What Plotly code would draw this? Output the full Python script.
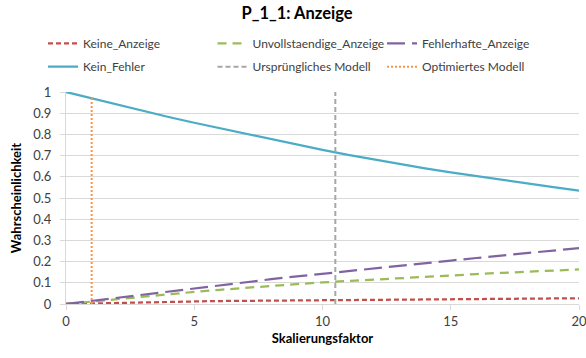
import plotly.graph_objects as go

# Skalierungsfaktor (x) and the probabilities of each outcome
skalierung = list(range(0, 21))
keine_anzeige = [0.0, 0.003, 0.006, 0.008, 0.010, 0.012, 0.014, 0.015, 0.017, 0.018, 0.019,
                 0.020, 0.021, 0.022, 0.023, 0.024, 0.024, 0.025, 0.026, 0.026, 0.027]
unvollstaendige_anzeige = [0.0, 0.012, 0.024, 0.035, 0.046, 0.057, 0.067, 0.077, 0.086, 0.094, 0.102,
                           0.109, 0.116, 0.123, 0.129, 0.135, 0.141, 0.147, 0.152, 0.158, 0.163]
fehlerhafte_anzeige = [0.0, 0.015, 0.030, 0.045, 0.060, 0.075, 0.090, 0.103, 0.117, 0.130, 0.143,
                       0.156, 0.169, 0.181, 0.193, 0.205, 0.217, 0.229, 0.240, 0.252, 0.264]
kein_fehler = [1.0, 0.970, 0.940, 0.910, 0.882, 0.855, 0.829, 0.803, 0.778, 0.754, 0.727,
               0.703, 0.681, 0.660, 0.640, 0.621, 0.603, 0.585, 0.568, 0.551, 0.535]

# Model markers: x position and vertical extent
urspruengliches_x = [10.5, 10.5]
urspruengliches_y = [0.0, 1.0]
optimiertes_x = [1.0, 1.0]
optimiertes_y = [0.0, 0.98]

FONT = "Lato"

fig = go.Figure()
# first legend row
fig.add_trace(go.Scatter(x=skalierung, y=keine_anzeige, name="Keine_Anzeige", mode="lines",
                         legend="legend",
                         line=dict(color="#C0504D", width=2.25, dash="5px,3px")))
fig.add_trace(go.Scatter(x=skalierung, y=unvollstaendige_anzeige, name="Unvollstaendige_Anzeige",
                         mode="lines", legend="legend",
                         line=dict(color="#9BBB59", width=2.25, dash="9px,6px")))
fig.add_trace(go.Scatter(x=skalierung, y=fehlerhafte_anzeige, name="Fehlerhafte_Anzeige",
                         mode="lines", legend="legend",
                         line=dict(color="#8064A2", width=2.25, dash="18px,7px")))
# second legend row
fig.add_trace(go.Scatter(x=skalierung, y=kein_fehler, name="Kein_Fehler", mode="lines",
                         legend="legend2",
                         line=dict(color="#4BACC6", width=2.25)))
fig.add_trace(go.Scatter(x=urspruengliches_x, y=urspruengliches_y, name="Ursprüngliches Modell",
                         mode="lines", legend="legend2",
                         line=dict(color="#A6A6A6", width=2, dash="5px,3px")))
fig.add_trace(go.Scatter(x=optimiertes_x, y=optimiertes_y, name="Optimiertes Modell",
                         mode="lines", legend="legend2",
                         line=dict(color="#F79646", width=2, dash="2px,2px")))

legend_style = dict(orientation="h", x=-0.0448, xanchor="left", yanchor="middle",
                    entrywidth=124.5, itemwidth=30,
                    font=dict(family=FONT, size=12, color="#404040"),
                    bgcolor="rgba(0,0,0,0)")

fig.update_layout(
    width=586, height=358,
    margin=dict(l=66, r=7, t=92, b=54),
    paper_bgcolor="white", plot_bgcolor="white",
    font=dict(family=FONT, size=12, color="#404040"),
    title=dict(text="<b>P_1_1: Anzeige</b>", x=0.507, xanchor="center", y=0.963, yanchor="middle",
               font=dict(family=FONT, size=16.5, color="#000000")),
    legend=dict(legend_style, y=1 + (92 - 43.3) / 212),
    legend2=dict(legend_style, y=1 + (92 - 66.7) / 212),
    showlegend=True,
)
fig.update_xaxes(
    range=[0, 20], tickvals=[0, 5, 10, 15, 20], showgrid=False, zeroline=False,
    showline=True, linecolor="#D9D9D9", linewidth=1, automargin=False,
    ticks="outside", ticklen=5, tickcolor="#D9D9D9", ticklabeloverflow="allow",
    tickfont=dict(family=FONT, size=13, color="#404040"),
    title=dict(text="<b>Skalierungsfaktor</b>", standoff=6,
               font=dict(family=FONT, size=13, color="#000000")),
)
fig.update_yaxes(
    range=[0, 1], tickvals=[i / 10 for i in range(11)],
    ticktext=["0", "0.1", "0.2", "0.3", "0.4", "0.5", "0.6", "0.7", "0.8", "0.9", "1"],
    showgrid=True, gridcolor="#D9D9D9", gridwidth=1, zeroline=False,
    showline=True, linecolor="#D9D9D9", linewidth=1, automargin=False,
    ticks="outside", ticklen=5, tickcolor="#D9D9D9", ticklabelstandoff=6,
    tickfont=dict(family=FONT, size=13, color="#404040"),
    title=dict(text="<b>Wahrscheinlichkeit</b>", standoff=8,
               font=dict(family=FONT, size=13, color="#000000")),
)

fig.write_html("out.html")
